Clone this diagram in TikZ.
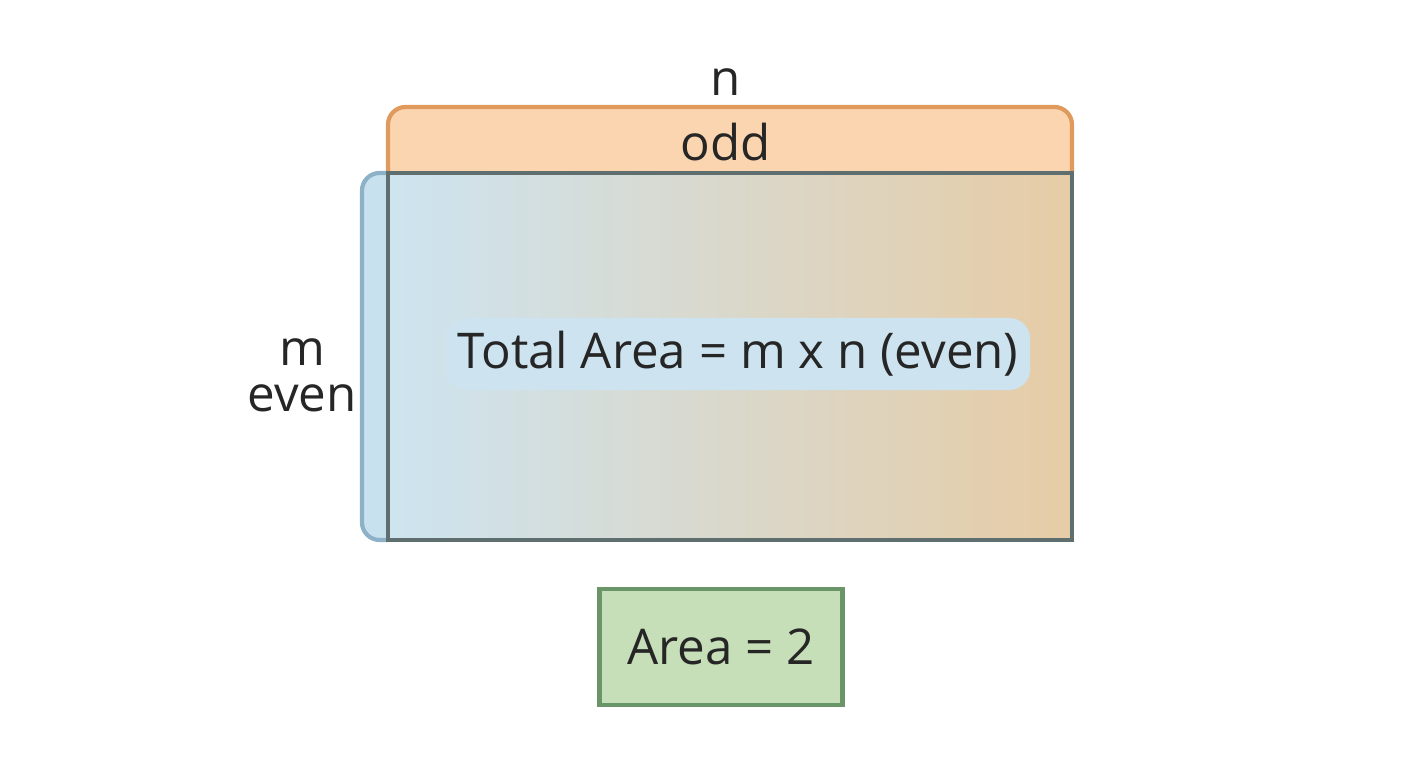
\documentclass[tikz,border=0pt]{standalone}
\usepackage{fontspec}
\setmainfont{Open Sans}
\usetikzlibrary{positioning}
\definecolor{oddfill}{HTML}{FBD5B0}
\definecolor{oddline}{HTML}{E09A5E}
\definecolor{evenfill}{HTML}{C8E1EE}
\definecolor{evenline}{HTML}{8DB2C8}
\definecolor{gridline}{HTML}{5F6F70}
\definecolor{tanfill}{HTML}{E6CCA6}
\definecolor{labelfill}{HTML}{CDE4F0}
\definecolor{tilefill}{HTML}{C6DFB8}
\definecolor{tileline}{HTML}{6A9568}
\begin{document}
\begin{tikzpicture}[x=0.01cm,y=-0.01cm,
	every node/.style={font=\fontsize{14}{16}\selectfont, text=black!85},
	side/.style={line width=1.2pt, rounded corners=5pt}]
	\useasboundingbox (0,0) rectangle (1408,768);
	% top strip
	\draw [side, fill=oddfill, draw=oddline] (388,172) |- (1072,107) -- (1072,172);
	\node (odd) at (726,142) {odd};
	\node (nlabel) at (726,82) {n};
	% left strip
	\draw [side, fill=evenfill, draw=evenline] (388,173) -| (362,540) -- (388,540);
	\node (mlabel) at (302,352) {m};
	\node (even) at (302,398) {even};
	% board
	\shade [shading angle=-60, left color=evenfill!90!white, right color=tanfill] (388,173) rectangle (1072,540);
	\draw [line width=1.2pt, draw=gridline] (388,173) rectangle (1072,540);
	\node (total) [fill=labelfill, rounded corners=6pt, minimum width=5.63cm, minimum height=0.72cm] at (738,354) {Total Area = m x n (even)};
	% domino
	\node (tile) [fill=tilefill, draw=tileline, line width=1.2pt, minimum width=2.43cm, minimum height=1.16cm] at (721,647) {Area = 2};
\end{tikzpicture}
\end{document}
